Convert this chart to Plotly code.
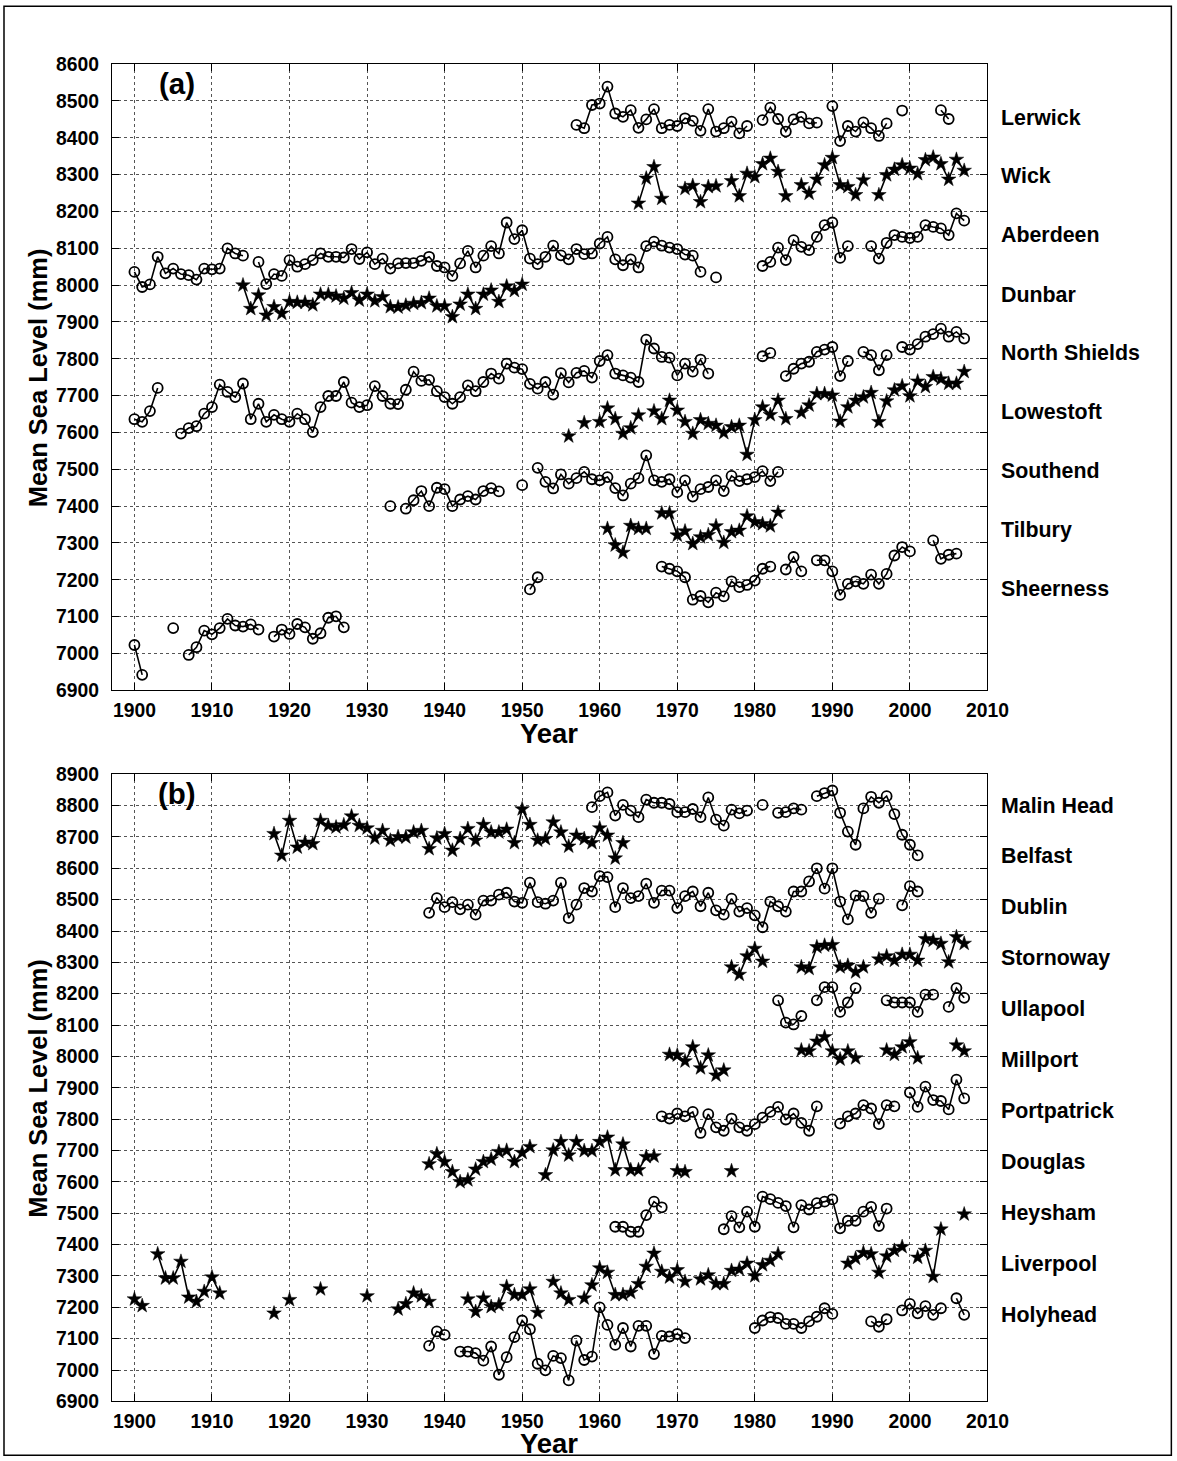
import plotly.graph_objects as go

N = None
# ---------------- Panel (a) data: start year + annual mean sea level (mm) ----------------
lerwick_start = 1957
lerwick = [8435, 8426, 8489, 8493, 8539, 8466, 8457, 8475, 8427, 8450, 8478, 8426, 8435, 8432, 8453, 8446,
           8419, 8478, 8417, 8426, 8444, 8412, 8432, N, 8448, 8482, 8451, 8417, 8450, 8457, 8439, 8441, N,
           8486, 8391, 8432, 8417, 8442, 8426, 8405, 8439, N, 8474, N, N, N, N, 8475, 8451]
wick_start = 1965
wick = [8222, 8290, 8321, 8235, N, N, 8262, 8270, 8226, 8267, 8269, N, 8283, 8242, 8303, 8294, 8329, 8344,
        8308, 8242, N, 8272, 8249, 8287, 8326, 8346, 8272, 8267, 8245, 8285, N, 8245, 8299, 8314, 8326,
        8317, 8302, 8340, 8347, 8329, 8287, 8341, 8311]
aberdeen_start = 1900
aberdeen = [8036, 7995, 8002, 8077, 8032, 8045, 8030, 8027, 8015, 8045, 8043, 8045, 8100, 8086, 8080, N,
            8063, 8003, 8030, 8025, 8068, 8050, 8057, 8068, 8086, 8077, 8077, 8075, 8098, 8071, 8089, 8057,
            8072, 8045, 8059, 8060, 8060, 8066, 8077, 8052, 8048, 8025, 8059, 8093, 8048, 8080, 8106, 8086,
            8170, 8125, 8149, 8072, 8057, 8077, 8107, 8081, 8070, 8098, 8084, 8086, 8113, 8131, 8070, 8054,
            8070, 8048, 8106, 8118, 8107, 8102, 8098, 8083, 8080, 8036, N, 8021, N, N, N, N, N, 8052, 8063,
            8102, 8068, 8122, 8104, 8095, 8131, 8163, 8170, 8074, 8106, N, N, 8106, 8072, 8115, 8136, 8131,
            8128, 8131, 8163, 8158, 8154, 8136, 8195, 8175]
dunbar_start = 1914
dunbar = [8000, 7936, 7973, 7918, 7941, 7923, 7955, 7953, 7953, 7946, 7975, 7975, 7970, 7964, 7979, 7959,
          7975, 7957, 7968, 7941, 7940, 7945, 7950, 7952, 7964, 7943, 7943, 7914, 7948, 7975, 7936, 7975,
          7986, 7955, 7997, 7985, 8002]
nshields_start = 1900
nshields = [7636, 7629, 7658, 7721, N, N, 7597, 7612, 7617, 7651, 7669, 7730, 7710, 7696, 7733, 7636, 7678,
            7629, 7648, 7636, 7629, 7651, 7636, 7601, 7669, 7699, 7699, 7737, 7681, 7669, 7674, 7726, 7699,
            7678, 7677, 7716, 7765, 7740, 7743, 7712, 7696, 7678, 7696, 7728, 7712, 7737, 7760, 7746, 7787,
            7776, 7772, 7732, 7719, 7737, 7703, 7761, 7736, 7762, 7767, 7749, 7794, 7810, 7760, 7755, 7749,
            7737, 7852, 7828, 7805, 7803, 7755, 7787, 7765, 7798, 7760, N, N, N, N, N, N, 7807, 7816, N,
            7753, 7773, 7787, 7792, 7819, 7825, 7832, 7753, 7794, N, 7819, 7810, 7769, 7810, N, 7832, 7825,
            7840, 7860, 7867, 7882, 7860, 7873, 7855]
lowestoft_start = 1956
lowestoft = [7590, N, 7626, N, 7629, 7666, 7637, 7597, 7612, 7647, N, 7658, 7637, 7687, 7660, 7629, 7597,
             7634, 7624, 7619, 7599, 7615, 7619, 7540, 7634, 7669, 7648, 7687, 7637, N, 7654, 7674, 7705,
             7705, 7701, 7630, 7669, 7687, 7696, 7708, 7629, 7685, 7715, 7726, 7699, 7739, 7724, 7751, 7745,
             7733, 7733, 7765]
southend_start = 1933
southend = [7400, N, 7393, 7416, 7441, 7400, 7450, 7446, 7400, 7418, 7427, 7418, 7441, 7449, 7440, N, N,
            7457, N, 7504, 7466, 7448, 7486, 7461, 7476, 7493, 7473, 7470, 7479, 7449, 7429, 7461, 7476,
            7538, 7470, 7466, 7473, 7438, 7470, 7426, 7446, 7452, 7470, 7441, 7482, 7468, 7473, 7479, 7495,
            7468, 7493]
tilbury_start = 1961
tilbury = [7339, 7294, 7274, 7347, 7339, 7339, N, 7381, 7381, 7321, 7332, 7298, 7316, 7322, 7346, 7301,
           7330, 7334, 7373, 7357, 7352, 7346, 7383]
sheerness_early_start = 1900
sheerness_early = [7023, 6942, N, N, N, 7069, N, 6996, 7017, 7062, 7052, 7069, 7094, 7076, 7073, 7079, 7065,
                   N, 7046, 7065, 7053, 7080, 7071, 7040, 7055, 7097, 7101, 7071]
sheerness_start = 1951
sheerness = [7174, 7207, N, N, N, N, N, N, N, N, N, N, N, N, N, N, N, 7236, 7230, 7223, 7207, 7146, 7156,
             7139, 7165, 7155, 7196, 7180, 7186, 7198, 7230, 7236, N, 7228, 7262, 7223, N, 7253, 7253, 7223,
             7159, 7189, 7196, 7189, 7214, 7189, 7216, 7266, 7289, 7277, N, N, 7307, 7257, 7268, 7271]

# ---------------- Panel (b) data ----------------
malin_start = 1959
malin = [8795, 8830, 8842, 8768, 8802, 8784, 8763, 8819, 8809, 8809, 8805, 8779, 8779, 8789, 8763, 8826,
         8755, 8736, 8787, 8775, 8784, N, 8802, N, 8777, 8779, 8791, 8787, N, 8830, 8840, 8848, 8777, 8717,
         8675, 8791, 8828, 8809, 8830, 8773, 8707, 8675, 8641]
belfast_start = 1918
belfast = [8710, 8641, 8752, 8667, 8683, 8678, 8752, 8736, 8731, 8738, 8766, 8736, 8728, 8696, 8720, 8689,
           8700, 8699, 8715, 8720, 8662, 8696, 8710, 8657, 8694, 8726, 8689, 8739, 8715, 8715, 8724, 8681,
           8789, 8739, 8689, 8694, 8747, 8715, 8670, 8705, 8694, 8681, 8728, 8705, 8632, 8681]
dublin_start = 1938
dublin = [8458, 8505, 8476, 8492, 8469, 8484, 8452, 8497, 8497, 8516, 8522, 8494, 8490, 8554, 8492, 8487,
          8497, 8554, 8441, 8484, 8537, 8526, 8575, 8572, 8476, 8537, 8505, 8511, 8551, 8490, 8529, 8529,
          8473, 8511, 8526, 8479, 8522, 8466, 8452, 8503, 8462, 8473, 8450, 8412, 8494, 8479, 8462, 8526,
          8526, 8558, 8600, 8535, 8600, 8494, 8437, 8513, 8511, 8458, 8503, N, N, 8482, 8543, 8526]
stornoway_start = 1977
stornoway = [8285, 8261, 8320, 8344, 8303, N, N, N, N, 8285, 8280, 8349, 8354, 8356, 8285, 8290, 8269,
             8285, N, 8310, 8320, 8306, 8325, 8325, 8306, 8375, 8370, 8360, 8301, 8381, 8360]
ullapool_start = 1983
ullapool = [8179, 8108, 8102, 8129, N, 8179, 8221, 8221, 8142, 8172, 8218, N, N, N, 8179, 8172, 8172, 8172,
            8142, 8197, 8197, N, 8158, 8218, 8187]
millport_start = 1969
millport = [8006, 8004, 7985, 8030, 7963, 8004, 7940, 7956, N, N, N, N, N, N, N, N, N, 8020, 8017, 8048,
            8062, 8017, 7991, 8017, 7995, N, N, N, 8020, 8006, 8030, 8046, 7995, N, N, N, N, 8036, 8017]
portpatrick_start = 1968
portpatrick = [7809, 7802, 7818, 7809, 7823, 7756, 7816, 7774, 7763, 7802, 7774, 7763, 7784, 7805, 7823,
               7839, 7799, 7818, 7788, 7763, 7841, N, N, 7786, 7809, 7818, 7845, 7834, 7784, 7845, 7841, N,
               7885, 7839, 7904, 7861, 7858, 7831, 7926, 7866]
douglas_start = 1938
douglas = [7657, 7689, 7664, 7632, 7600, 7606, 7640, 7664, 7672, 7696, 7700, 7664, 7693, 7712, N, 7622,
           7701, 7728, 7685, 7728, 7699, 7699, 7728, 7742, 7638, 7720, 7638, 7638, 7680, 7682, N, N, 7635,
           7632, N, N, N, N, N, 7635]
heysham_start = 1962
heysham = [7457, 7457, 7441, 7441, 7494, 7537, 7519, N, N, N, N, N, N, N, 7449, 7491, 7455, 7505, 7457,
           7553, 7545, 7533, 7523, 7455, 7526, 7512, 7532, 7537, 7544, 7452, 7476, 7476, 7505, 7520, 7459,
           7515]
liverpool_start = 1900
liverpool = [7226, 7205, N, 7370, 7293, 7293, 7346, 7232, 7218, 7250, 7296, 7245, N, N, N, N, N, N, 7181, N,
             7224, N, N, N, 7258, N, N, N, N, N, 7236, N, N, N, 7194, 7211, 7245, 7236, 7218, N, N, N, N,
             7226, 7186, 7229, 7202, 7208, 7266, 7240, 7240, 7258, 7183, N, 7282, 7245, 7224, N, 7229, 7271,
             7325, 7311, 7240, 7240, 7247, 7275, 7330, 7372, 7314, 7296, 7319, 7282, N, 7290, 7303, 7275,
             7275, 7317, 7321, 7340, 7300, 7335, 7349, 7370, N, N, N, N, N, N, N, N, 7340, 7356, 7374, 7370,
             7311, 7363, 7381, 7393, N, 7359, 7381, 7298, 7449, N, N, 7497]
holyhead_start = 1938
holyhead = [7077, 7123, 7112, N, 7059, 7059, 7054, 7030, 7075, 6985, 7041, 7105, 7158, 7130, 7020, 6999,
            7045, 7038, 6967, 7094, 7032, 7043, 7200, 7144, 7080, 7134, 7075, 7141, 7141, 7051, 7109, 7107,
            7115, 7102, N, N, N, N, N, N, N, N, 7134, 7158, 7169, 7166, 7147, 7147, 7134, 7155, 7170, 7197,
            7179, N, N, N, N, 7155, 7138, 7162, N, 7190, 7211, 7181, 7204, 7176, 7197, N, 7229, 7176]

panel_a = [("o", lerwick_start, lerwick), ("*", wick_start, wick), ("o", aberdeen_start, aberdeen),
           ("*", dunbar_start, dunbar), ("o", nshields_start, nshields), ("*", lowestoft_start, lowestoft),
           ("o", southend_start, southend), ("*", tilbury_start, tilbury),
           ("o", sheerness_early_start, sheerness_early), ("o", sheerness_start, sheerness)]
panel_b = [("o", malin_start, malin), ("*", belfast_start, belfast), ("o", dublin_start, dublin),
           ("*", stornoway_start, stornoway), ("o", ullapool_start, ullapool), ("*", millport_start, millport),
           ("o", portpatrick_start, portpatrick), ("*", douglas_start, douglas), ("o", heysham_start, heysham),
           ("*", liverpool_start, liverpool), ("o", holyhead_start, holyhead)]

labels_a = ["Lerwick", "Wick", "Aberdeen", "Dunbar", "North Shields", "Lowestoft", "Southend", "Tilbury", "Sheerness"]
labels_a_y = [8455, 8297, 8137, 7974, 7816, 7656, 7495, 7335, 7175]
labels_b = ["Malin Head", "Belfast", "Dublin", "Stornoway", "Ullapool", "Millport", "Portpatrick", "Douglas",
            "Heysham", "Liverpool", "Holyhead"]
labels_b_y = [8800, 8638, 8475, 8313, 8150, 7988, 7825, 7663, 7500, 7338, 7175]

x_ticks = list(range(1900, 2011, 10))

# The captured picture appears slightly reduced and shifted down;
# positions are laid out in picture pixels and converted to figure pixels here.
SX, SY, OY = 0.983, 0.987, 8.8
W, H = 1197, 1471
FONT = "Liberation Sans, Arial, Helvetica, sans-serif"


def px(xp):
    return (xp / SX) / W


def py(yp):
    return 1 - ((yp - OY) / SY) / H


def fs(size):
    return size / SX


fig = go.Figure()


def add_series(kind, start, vals, xa, ya):
    yrs = [start + i for i in range(len(vals))]
    if kind == "o":
        mk = dict(symbol="circle-open", size=10, color="black", line=dict(color="black", width=1.8))
    else:
        mk = dict(symbol="star", size=11, color="black", line=dict(color="black", width=0.5))
    fig.add_trace(go.Scatter(x=yrs, y=vals, mode="lines+markers", connectgaps=False,
                             line=dict(color="black", width=1.6), marker=mk,
                             xaxis=xa, yaxis=ya, showlegend=False, hoverinfo="x+y"))


for kind, start, vals in panel_a:
    add_series(kind, start, vals, "x", "y")
for kind, start, vals in panel_b:
    add_series(kind, start, vals, "x2", "y2")

xd = [px(112), px(988)]
ya_dom = [py(690), py(63)]
yb_dom = [py(1402), py(774)]

axis_common = dict(showline=True, linecolor="black", linewidth=1, mirror="allticks", ticks="inside",
                   ticklen=7, tickcolor="black", showgrid=True, gridcolor="#555555", griddash="dot",
                   gridwidth=1, zeroline=False,
                   tickfont=dict(family=FONT, size=fs(19), color="black", weight="bold"))

fig.update_layout(
    width=W, height=H, paper_bgcolor="white", plot_bgcolor="white",
    margin=dict(l=0, r=0, t=0, b=0),
    xaxis=dict(domain=xd, anchor="y", range=[1897.1, 2010], tickvals=x_ticks, ticklabelstandoff=2,
               **axis_common),
    yaxis=dict(domain=ya_dom, anchor="x", range=[6900, 8600], dtick=100, tick0=6900, ticklabelstandoff=8,
               **axis_common),
    xaxis2=dict(domain=xd, anchor="y2", range=[1897.1, 2010], tickvals=x_ticks, ticklabelstandoff=2,
                **axis_common),
    yaxis2=dict(domain=yb_dom, anchor="x2", range=[6900, 8900], dtick=100, tick0=6900, ticklabelstandoff=8,
                **axis_common),
)

ann = []
lab_font = dict(family=FONT, size=fs(21), color="black", weight="bold")
for name, yv in zip(labels_a, labels_a_y):
    ann.append(dict(text=name, xref="paper", yref="y", x=px(1000), y=yv, xanchor="left", yanchor="middle",
                    showarrow=False, font=lab_font))
for name, yv in zip(labels_b, labels_b_y):
    ann.append(dict(text=name, xref="paper", yref="y2", x=px(1000), y=yv, xanchor="left", yanchor="middle",
                    showarrow=False, font=lab_font))

title_font = dict(family=FONT, size=fs(29), color="black", weight="bold")
ann.append(dict(text="(a)", xref="x", yref="y", x=1905.5, y=8547, xanchor="center", yanchor="middle",
                showarrow=False, font=title_font))
ann.append(dict(text="(b)", xref="x2", yref="y2", x=1905.5, y=8838, xanchor="center", yanchor="middle",
                showarrow=False, font=title_font))
year_font = dict(family=FONT, size=fs(27), color="black", weight="bold")
ann.append(dict(text="Year", xref="paper", yref="paper", x=px(549), y=py(733), xanchor="center",
                yanchor="middle", showarrow=False, font=year_font))
ann.append(dict(text="Year", xref="paper", yref="paper", x=px(549), y=py(1444), xanchor="center",
                yanchor="middle", showarrow=False, font=year_font))
msl_font = dict(family=FONT, size=fs(25), color="black", weight="bold")
ann.append(dict(text="Mean Sea Level (mm)", xref="paper", yref="paper", x=px(38), y=py(376.5),
                xanchor="center", yanchor="middle", textangle=-90, showarrow=False, font=msl_font))
ann.append(dict(text="Mean Sea Level (mm)", xref="paper", yref="paper", x=px(38), y=py(1088),
                xanchor="center", yanchor="middle", textangle=-90, showarrow=False, font=msl_font))
fig.update_layout(annotations=ann)

fig.add_shape(type="rect", xref="paper", yref="paper", x0=px(4), x1=px(1172), y0=py(1456), y1=py(5),
              line=dict(color="black", width=1.5))

fig.write_html("out.html", config={"displayModeBar": False},
               post_script="document.documentElement.style.margin='0';document.body.style.margin='0';"
                           "document.documentElement.style.overflow='hidden';"
                           "document.body.style.overflow='hidden';")
